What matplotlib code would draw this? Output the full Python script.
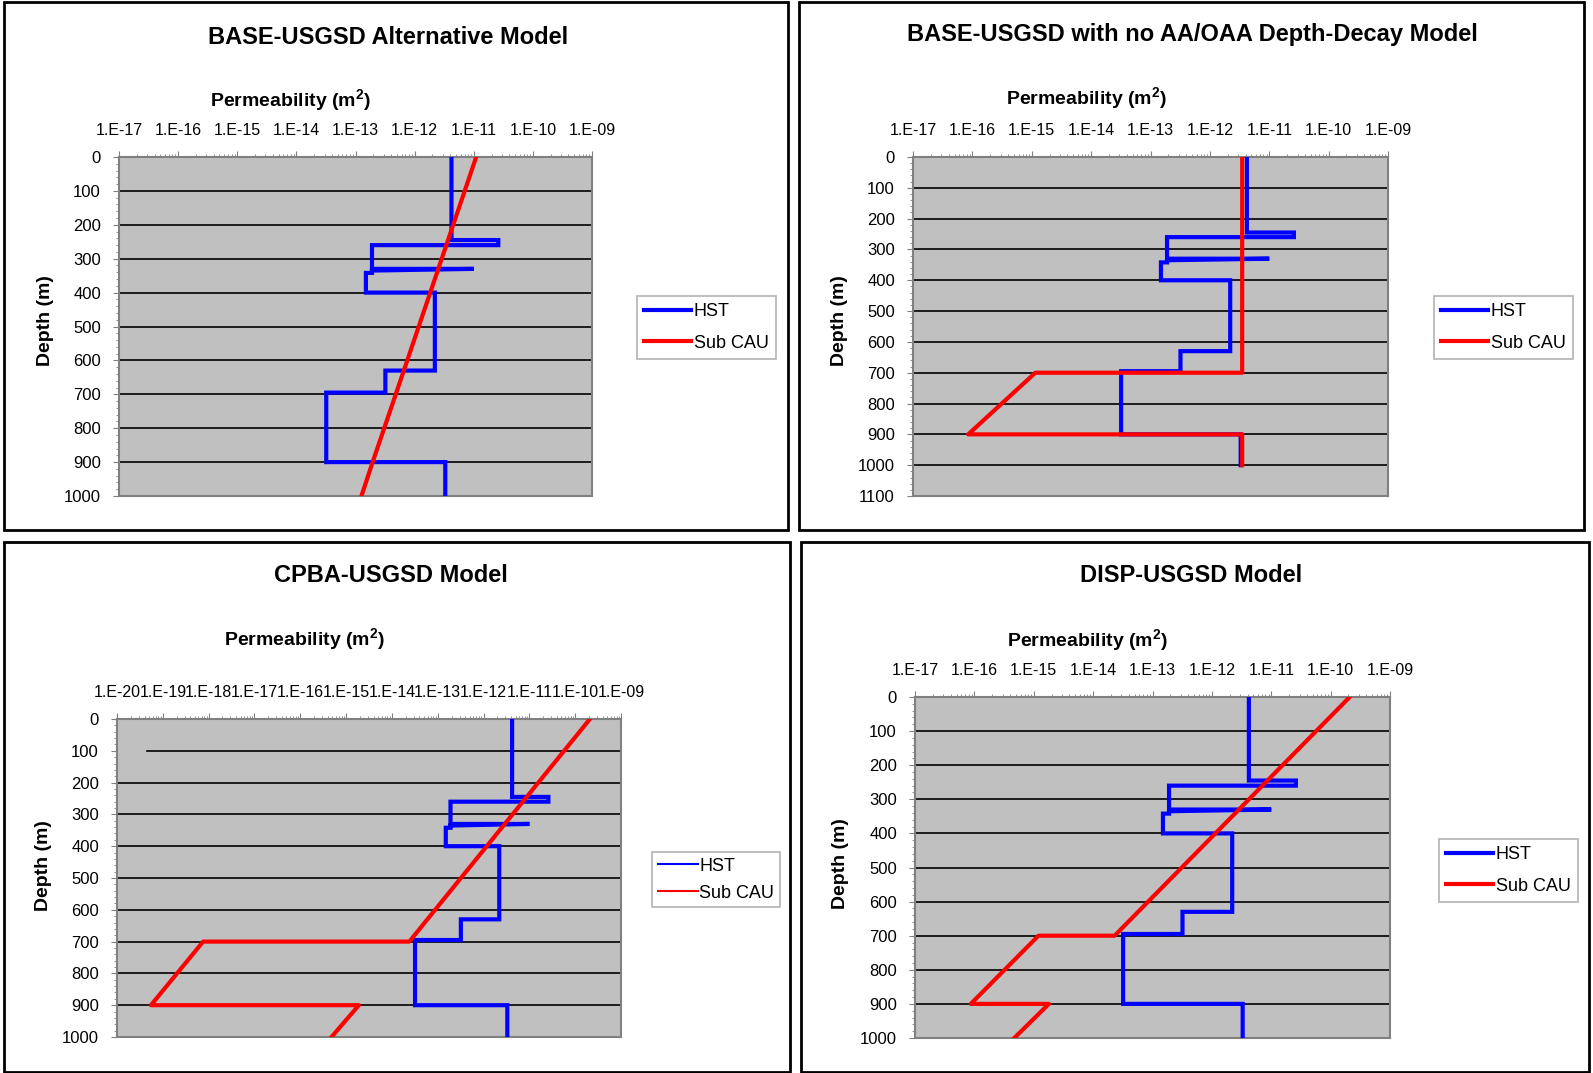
import numpy as np
import matplotlib
matplotlib.use("Agg")
import matplotlib.pyplot as plt
from matplotlib.patches import Rectangle
from matplotlib.lines import Line2D
from matplotlib.ticker import LogLocator, MultipleLocator, NullFormatter, FuncFormatter

plt.rcParams["font.family"] = ["Liberation Sans", "DejaVu Sans"]
plt.rcParams["mathtext.fontset"] = "custom"
plt.rcParams["mathtext.rm"] = "Liberation Sans"
plt.rcParams["mathtext.bf"] = "Liberation Sans:bold"

W, H = 1593, 1073

# HST permeability profile (same in every model)
hst_depth = [0, 245, 245, 260, 260, 330, 330, 335, 342, 342, 400, 400,
             630, 630, 695, 695, 900, 900, 1000]
hst_perm = [4.2e-12, 4.2e-12, 2.6e-11, 2.6e-11, 1.9e-13, 1.9e-13, 1.0e-11, 1.9e-13,
            1.9e-13, 1.5e-13, 1.5e-13, 2.2e-12, 2.2e-12, 3.2e-13, 3.2e-13, 3.2e-14,
            3.2e-14, 3.3e-12, 3.3e-12]

# Sub CAU permeability for each model
alt_depth = [0, 700, 900, 1000]
alt_perm = [1.1e-11, 4.8e-13, 1.95e-13, 1.26e-13]

nodecay_depth = [0, 700, 700, 900, 900, 1000]
nodecay_perm = [3.5e-12, 3.5e-12, 1.15e-15, 8.5e-17, 3.5e-12, 3.5e-12]

cpba_depth = [0, 700, 700, 900, 900, 1000]
cpba_perm = [2.1e-10, 2.4e-14, 7.6e-19, 5.5e-20, 1.9e-15, 4.8e-16]

disp_depth = [0, 700, 700, 900, 900, 1000]
disp_perm = [2.1e-10, 2.3e-14, 1.2e-15, 8.7e-17, 1.8e-15, 4.7e-16]

titles = ["BASE-USGSD Alternative Model",
          "BASE-USGSD with no AA/OAA Depth-Decay Model",
          "CPBA-USGSD Model",
          "DISP-USGSD Model"]

panels = [
    dict(title=titles[0], sub=(alt_depth, alt_perm), xlim=(1e-17, 1e-9), ymax=1000,
         box=(119, 157, 592, 496), frame=(4, 2, 788, 530),
         title_xy=(388, 37), perm_xy=(291, 101), depth_xy=(45, 321),
         leg=(637, 296), thin=False),
    dict(title=titles[1], sub=(nodecay_depth, nodecay_perm), xlim=(1e-17, 1e-9), ymax=1100,
         box=(913, 157, 1388, 496), frame=(799, 2, 1584, 530),
         title_xy=(1192, 34), perm_xy=(1087, 99), depth_xy=(840, 321),
         leg=(1434, 296), thin=False),
    dict(title=titles[2], sub=(cpba_depth, cpba_perm), xlim=(1e-20, 1e-9), ymax=1000,
         box=(117, 719, 621, 1037), frame=(4, 542, 790, 1072),
         title_xy=(391, 576), perm_xy=(305, 640), depth_xy=(43, 866),
         leg=(652, 852), thin=True),
    dict(title=titles[3], sub=(disp_depth, disp_perm), xlim=(1e-17, 1e-9), ymax=1000,
         box=(915, 697, 1390, 1038), frame=(801, 542, 1589, 1072),
         title_xy=(1191, 576), perm_xy=(1088, 641), depth_xy=(841, 864),
         leg=(1439, 839), thin=False),
]


def fx(x):
    return x / W


def fy(y):
    return 1 - y / H


def exp_label(v, pos):
    e = int(round(np.log10(v)))
    return "1.E-%02d" % abs(e)


fig = plt.figure(figsize=(W / 100, H / 100), dpi=100)

for p in panels:
    x0, y0, x1, y1 = p["frame"]
    fig.patches.append(Rectangle((fx(x0), fy(y1)), fx(x1 - x0), (y1 - y0) / H,
                                 transform=fig.transFigure, fill=False,
                                 edgecolor="black", lw=2))

    l, t, r, b = p["box"]
    ax = fig.add_axes([fx(l), fy(b), fx(r - l), (b - t) / H])
    ax.set_facecolor("#c0c0c0")
    ax.set_xscale("log")
    ax.set_xlim(*p["xlim"])
    ax.set_ylim(p["ymax"], 0)

    for d in range(100, p["ymax"] + 1, 100):
        if d == p["ymax"]:
            continue
        start = 0.06 if (p["thin"] and d == 100) else 0
        ax.axhline(d, xmin=start, color="black", lw=1.2, zorder=1)

    sub_depth, sub_perm = p["sub"]
    ax.plot(hst_perm, hst_depth, color="#0000ff", lw=3, zorder=3,
            solid_joinstyle="miter")
    ax.plot(sub_perm, sub_depth, color="#ff0000", lw=3, zorder=4)

    ax.xaxis.tick_top()
    ax.xaxis.set_major_locator(LogLocator(base=10, numticks=20))
    ax.xaxis.set_minor_locator(LogLocator(base=10, subs=np.arange(2, 10), numticks=20))
    ax.xaxis.set_major_formatter(FuncFormatter(exp_label))
    ax.xaxis.set_minor_formatter(NullFormatter())
    ax.yaxis.set_major_locator(MultipleLocator(100))
    ax.yaxis.set_minor_locator(MultipleLocator(20))

    ax.tick_params(axis="x", which="major", labelsize=11.5, length=4, pad=10,
                   color="#808080", top=True, bottom=False)
    ax.tick_params(axis="x", which="minor", length=2.5, color="#808080",
                   top=True, bottom=False)
    ax.tick_params(axis="y", which="major", labelsize=12, length=4, pad=9,
                   color="#808080")
    ax.tick_params(axis="y", which="minor", length=2.5, color="#808080")
    for s in ax.spines.values():
        s.set_color("#808080")
        s.set_linewidth(1.5)

    fig.text(fx(p["title_xy"][0]), fy(p["title_xy"][1]), p["title"],
             ha="center", va="center", fontsize=17, fontweight="bold")
    fig.text(fx(p["perm_xy"][0]), fy(p["perm_xy"][1]),
             r"Permeability (m$^{\mathbf{2}}$)",
             ha="center", va="center", fontsize=14, fontweight="bold")
    fig.text(fx(p["depth_xy"][0]), fy(p["depth_xy"][1]), "Depth (m)",
             ha="center", va="center", fontsize=14, fontweight="bold",
             rotation=90)

    if p["thin"]:
        lw_leg, pad, spacing, hlen, tpad = 1.5, 0.32, 0.55, 2.2, 0.1
    else:
        lw_leg, pad, spacing, hlen, tpad = 3, 0.4, 0.8, 2.6, 0.15
    handles = [Line2D([], [], color="#0000ff", lw=lw_leg),
               Line2D([], [], color="#ff0000", lw=lw_leg)]
    lx, ly = p["leg"]
    leg = ax.legend(handles, ["HST", "Sub CAU"], loc="upper left",
                    bbox_to_anchor=(fx(lx), fy(ly)), bbox_transform=fig.transFigure,
                    fontsize=13, frameon=True, fancybox=False, borderaxespad=0,
                    handlelength=hlen, handletextpad=tpad, labelspacing=spacing,
                    borderpad=pad)
    leg.get_frame().set_edgecolor("#a0a0a0")
    leg.get_frame().set_linewidth(1.2)

fig.savefig("out.png", dpi=100)
